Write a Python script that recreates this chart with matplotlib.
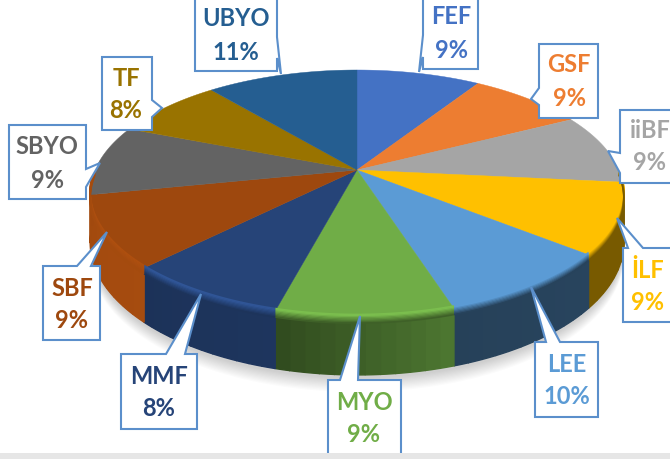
import numpy as np
import matplotlib
matplotlib.use('Agg')
import matplotlib.pyplot as plt
from matplotlib.colors import to_rgb

labels = ['FEF', 'GSF', 'iiBF', 'İLF', 'LEE', 'MYO', 'MMF', 'SBF', 'SBYO', 'TF', 'UBYO']
# printed percentages, and the finer shares
pct_labels = ['9%', '9%', '9%', '9%', '10%', '9%', '8%', '9%', '9%', '8%', '11%']
shares = [9.0, 8.4, 9.2, 9.2, 9.3, 9.0, 8.3, 9.4, 9.2, 8.0, 11.0]
colors = ['#4472C4', '#ED7D31', '#A5A5A5', '#FFC000', '#5B9BD5', '#70AD47',
          '#264478', '#9E480E', '#636363', '#997300', '#255E91']

# wall brightness at the start and end of each slice, and rim highlight
wall_f = {'İLF': (0.47, 0.47), 'LEE': (0.44, 0.42), 'MYO': (0.68, 0.44),
          'MMF': (0.78, 0.74), 'SBF': (1.05, 1.02)}
rim_f = {'İLF': 1.0, 'LEE': 1.0, 'MYO': 1.1, 'MMF': 1.25, 'SBF': 1.1}

# callout boxes: left, right, top, bottom in pixels
boxes = [(423, 478, -2, 69), (539, 598, 44, 118), (620, 680, 110, 183), (623, 680, 248, 322),
         (535, 598, 342, 417), (328, 401, 380, 470), (121, 197, 354, 429), (43, 100, 266, 340),
         (9, 86, 125, 199), (102, 152, 57, 130), (195, 277, -2, 71)]
# tail tip and where the tail leaves the box: side, start, end
tails = [((419, 72), 'left', 35, 57), ((531, 99), 'left', 88, 105), ((608, 151), 'left', 153, 173),
         ((617, 218), 'top', 628, 643), ((531, 287), 'top', 546, 560), ((360, 316), 'top', 340, 358),
         ((201, 294), 'top', 166, 185), ((107, 232), 'top', 77, 91), ((100, 163), 'right', 169, 187),
         ((162, 108), 'right', 100, 117), ((281, 74), 'right', 37, 58)]
text_x = [451, 569, 650, 648, 567, 364, 159, 72, 47, 126, 236]
name_y = [17, 65, 131, 270, 364, 402, 376, 288, 146, 78, 19]
pct_y = [50, 98, 163, 303, 397, 435, 409, 321, 180, 111, 52]

CX, CY = 357, 170
RX, RY = 262, 119
PERSP = 0.19
DEPTH = 47


def project(t, drop=0):
    # t is clockwise from 12 o'clock, nearer points come out bigger
    u, v = np.sin(t), -np.cos(t)
    w = 1 - PERSP * v
    return CX + RX * u / w, CY + (RY * v + drop) / w


def shade(color, f):
    return np.minimum(1, np.array(to_rgb(color)) * f)


fig = plt.figure(figsize=(6.7, 4.59), dpi=100)
ax = fig.add_axes([0, 0, 1, 1])
ax.set_xlim(0, 670)
ax.set_ylim(459, 0)
ax.axis('off')

edges = np.cumsum([0] + shares) / sum(shares) * 2 * np.pi
tt = np.linspace(0, 2 * np.pi, 360)

# soft shadow under the pie
for i in range(12):
    sx, sy = project(tt, DEPTH + 13 - i)
    ax.fill(sx, sy + 1, color='#000000', alpha=0.016, lw=0, zorder=1)

# top face
for i in range(len(shares)):
    s = np.linspace(edges[i], edges[i + 1], 60)
    x, y = project(s)
    ax.fill(np.r_[CX, x], np.r_[CY, y], color=colors[i], lw=0.3, zorder=3)

# side wall in strips for the gradient, with a soft rim on top of it
for i, name in enumerate(labels):
    if name not in wall_f:
        continue
    a, b = edges[i], edges[i + 1]
    # the wall colours run on to the sides of the pie
    if name == 'İLF':
        a = np.pi / 2
    if name == 'SBF':
        b = 3 * np.pi / 2
    f0, f1 = wall_f[name]
    cuts = np.linspace(a, b, 13)
    for j in range(12):
        s = np.linspace(cuts[j], cuts[j + 1], 8)
        x1, y1 = project(s)
        x2, y2 = project(s[::-1], DEPTH)
        wall = shade(colors[i], f0 + (f1 - f0) * j / 11)
        ax.fill(np.r_[x1, x2], np.r_[y1, y2], color=wall, lw=1.0, zorder=2)
    s = np.linspace(a, b, 80)
    mid = shade(colors[i], (f0 + f1) / 2)
    light = shade(colors[i], rim_f[name])
    for d in np.arange(-2.0, 6, 1.0):
        k = np.clip((d + 1) / 6, 0, 1)
        rx, ry = project(s, d)
        ax.plot(rx, ry, color=light * (1 - k) + mid * k, lw=1.2, zorder=4, solid_capstyle='butt')

# callouts
line = '#5B8FCB'
for i, name in enumerate(labels):
    l, r, t, b = boxes[i]
    tip, side, p, q = tails[i]
    if side == 'top':
        px = [l, p, tip[0], q, r, r, l, l]
        py = [t, t, tip[1], t, t, b, b, t]
    elif side == 'left':
        px = [l, l, tip[0], l, l, r, r, l]
        py = [t, p, tip[1], q, b, b, t, t]
    else:
        px = [l, r, r, tip[0], r, r, l, l]
        py = [t, t, p, tip[1], q, b, b, t]
    ax.fill(px, py, facecolor='white', edgecolor=line, lw=1.5, zorder=5, joinstyle='miter')
    ax.text(text_x[i], name_y[i], name, color=colors[i], family='Lato', weight='bold',
            fontsize=17, ha='center', va='center', zorder=6)
    ax.text(text_x[i], pct_y[i], pct_labels[i], color=colors[i], family='Lato', weight='bold',
            fontsize=17, ha='center', va='center', zorder=6)

# grey strip at the bottom of the screenshot
ax.axhspan(453, 459, color='#E6E6E6', lw=0, zorder=7)

fig.savefig('out.png', dpi=100)
